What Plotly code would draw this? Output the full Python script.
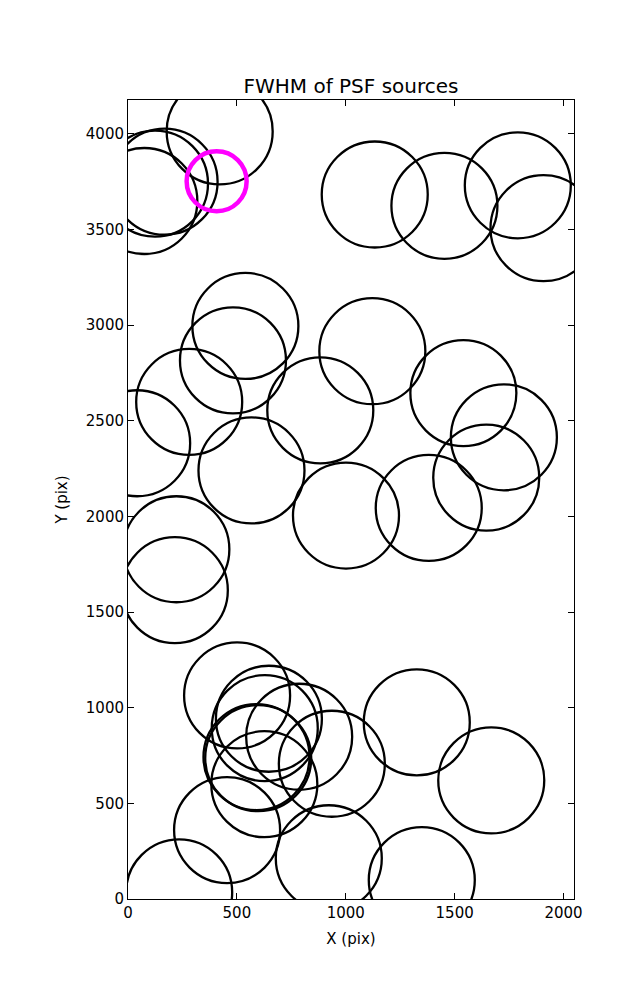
import plotly.graph_objects as go

# Source positions (pixels) of PSF sources
src_x = [1133, 1453, 1790, 1908, 421, 168, 124, 75,
         539, 482, 281, 42, 567, 1122, 883, 1540, 1726, 1645, 1381, 1001,
         222, 215, 501, 647, 628, 786, 590, 598, 936, 626, 1326, 1668,
         455, 922, 1349, 235]
src_y = [3682, 3623, 3730, 3506, 4012, 3749, 3739, 3648,
         2995, 2815, 2598, 2382, 2240, 2863, 2554, 2644, 2413, 2202, 2044, 2004,
         1828, 1614, 1064, 942, 893, 848, 742, 736, 707, 600, 923, 620,
         360, 213, 99, 35]

# Highlighted source
hl_x = [407]
hl_y = [3751]

x_ticks = [0, 500, 1000, 1500, 2000]
y_ticks = [0, 500, 1000, 1500, 2000, 2500, 3000, 3500, 4000]

fig = go.Figure()
fig.add_trace(go.Scatter(
    x=src_x, y=src_y, mode="markers",
    marker=dict(symbol="circle-open", size=106, color="black",
                line=dict(width=2.3, color="black")),
    showlegend=False, hoverinfo="skip"))
fig.add_trace(go.Scatter(
    x=hl_x, y=hl_y, mode="markers",
    marker=dict(symbol="circle-open", size=60, color="#FF00FF",
                line=dict(width=4.5, color="#FF00FF")),
    showlegend=False, hoverinfo="skip"))

axis_common = dict(showline=True, linecolor="black", linewidth=1,
                   mirror="allticks", ticks="inside", ticklen=6,
                   tickcolor="black", tickwidth=1, showgrid=False,
                   zeroline=False,
                   tickfont=dict(family="DejaVu Sans", size=15, color="black"))

fig.update_xaxes(range=[0, 2048], tickvals=x_ticks,
                 title=dict(text="X (pix)", font=dict(family="DejaVu Sans", size=15, color="black"),
                            standoff=12),
                 **axis_common)
fig.update_yaxes(range=[0, 4176], tickvals=y_ticks, ticklabelstandoff=0,
                 title=dict(text="Y (pix)", font=dict(family="DejaVu Sans", size=15, color="black"),
                            standoff=14),
                 **axis_common)

# page body has an 8px margin: figure is offset by (8, 8) on the page
fig.update_layout(
    width=629, height=992,
    margin=dict(l=120, r=63, t=92, b=101),
    plot_bgcolor="white", paper_bgcolor="white",
    title=dict(text="FWHM of PSF sources", x=343 / 629, xanchor="center",
               y=1 - 78 / 992, yanchor="middle",
               font=dict(family="DejaVu Sans", size=20, color="black")),
)

fig.write_html("out.html")
